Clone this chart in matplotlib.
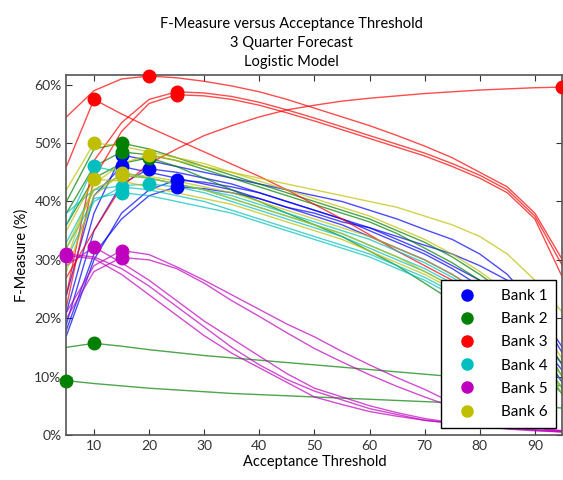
import numpy as np
import matplotlib
matplotlib.use('Agg')
from matplotlib import pyplot as plt
from matplotlib.lines import Line2D

plt.rcParams['font.family'] = ['Lato', 'DejaVu Sans']

thresholds = [5, 10, 15, 20, 25, 30, 35, 40, 45, 50, 55, 60, 65, 70, 75, 80, 85, 90, 95]

# F-measure (%) per bank, one row per model run
bank1 = [
    [21, 38, 48, 47, 46, 45, 44, 43, 42, 41, 40, 38.5, 37, 35.2, 33.5, 31, 27.5, 22, 14],
    [24, 41, 46, 45, 44, 43, 42, 40.5, 39, 38, 36.5, 35.5, 34, 32.5, 31, 29, 26.5, 22, 15],
    [19, 35, 43, 45.6, 45, 44, 43, 41.5, 40, 38.5, 37, 35, 33, 31, 28.5, 25.5, 22, 17, 11],
    [17, 30, 38, 42, 43.7, 43.3, 42.5, 41.5, 40, 38.5, 37, 35.5, 33.5, 31.5, 29, 26.5, 23, 18.5, 12],
    [18, 31, 37, 41, 42.5, 42.2, 41.5, 40.5, 39, 37.5, 36, 34, 32, 30, 27.5, 24.5, 21, 16, 9],
]
bank2 = [
    [40, 49, 50, 49, 47.5, 46, 44.5, 43, 41.5, 40, 38.5, 37, 35, 33, 30.5, 27.5, 24, 19, 12],
    [38, 46, 48.5, 48, 47, 45.5, 44, 42.5, 41, 39.5, 38, 36.5, 34.5, 32, 29.5, 26.5, 22.5, 17.5, 10],
    [36, 44, 46.5, 47.5, 46, 44, 42, 40, 38, 36, 34, 31.5, 29, 26, 23, 20, 16, 12, 7],
    [15, 15.7, 15.2, 14.6, 14.1, 13.6, 13.2, 12.8, 12.4, 12.0, 11.6, 11.2, 10.8, 10.4, 10.0, 9.6, 9.2, 8.8, 8.4],
    [9.3, 8.8, 8.4, 8.0, 7.7, 7.4, 7.1, 6.9, 6.7, 6.5, 6.3, 6.1, 5.9, 5.7, 5.5, 5.3, 5.1, 4.9, 4.6],
]
bank3 = [
    [54.5, 59, 61, 61.5, 61.2, 60.6, 59.8, 58.8, 57.5, 56, 54.5, 53, 51.3, 49.5, 47.5, 45, 42.5, 38, 30],
    [46, 57.5, 55, 52.7, 50.6, 48.5, 46.4, 44.3, 42, 39.5, 37, 34.3, 31.5, 29, 26.5, 23.5, 20, 15, 9],
    [24, 47, 53.5, 57.5, 58.8, 58.6, 58, 57, 55.7, 54.3, 52.8, 51.3, 49.8, 48.3, 46.5, 44.5, 42, 37.5, 29],
    [22, 44, 52, 56.8, 58.3, 58.1, 57.5, 56.5, 55.2, 53.8, 52.3, 50.8, 49.3, 47.8, 46, 44, 41.5, 37, 27],
    [27, 35, 42.5, 46.5, 49, 51.3, 53, 54.5, 55.7, 56.5, 57.2, 57.7, 58.1, 58.5, 58.8, 59.1, 59.3, 59.5, 59.6],
]
bank4 = [
    [36, 46, 45, 44, 43, 42, 41, 39.5, 38, 36.5, 35, 33.5, 31.5, 29.5, 27, 24, 20.5, 16, 10],
    [33, 42, 44.5, 44, 43, 42, 40.5, 39, 37.5, 36, 34.5, 32.5, 30.5, 28.5, 26, 23, 19.5, 15, 9],
    [30, 40, 42.5, 42, 41, 40, 38.5, 37, 35.5, 34, 32.5, 31, 29, 27, 24.5, 21.5, 18, 13.5, 8],
    [38, 42, 42.7, 43, 42.5, 41.5, 40, 38.5, 37, 35.5, 34, 32, 30, 28, 25.5, 22.5, 19, 14.5, 8],
    [32, 40.5, 41.5, 41, 40, 39, 38, 36.5, 35, 33.5, 32, 30.5, 28.5, 26.5, 24, 21, 17.5, 13, 7],
]
bank5 = [
    [31, 30.5, 28.5, 25.5, 22, 18.5, 15, 12, 9.5, 7.5, 6, 4.5, 3.5, 2.5, 2, 1.5, 1, 0.7, 0.5],
    [29, 32.2, 29.5, 26.5, 23, 19.5, 16.5, 13.5, 10.5, 8, 6.5, 5, 3.8, 2.8, 2.1, 1.5, 1.1, 0.8, 0.5],
    [21, 29, 31.6, 30.9, 28.8, 26.5, 24, 21.5, 19, 16.8, 14.3, 12, 9.8, 7.8, 5.5, 3.8, 2.3, 1.3, 0.7],
    [20, 28, 30.4, 30, 28.5, 26, 23, 20.3, 17.5, 14.8, 12.5, 10.3, 8.3, 6.5, 4.8, 3.4, 2.2, 1.2, 0.6],
    [30.7, 30.2, 27.5, 24, 20.5, 17, 14, 11.5, 9, 6.5, 5.2, 4, 3.2, 2.5, 2, 1.6, 1.2, 0.9, 0.6],
]
bank6 = [
    [42, 50, 49.5, 48.5, 47.5, 46.5, 45, 43.5, 42, 40.5, 39, 37.5, 35.5, 33.5, 31, 28, 24.5, 20, 13],
    [30, 43, 46.5, 48, 47, 46, 45, 44, 43, 42, 41, 40, 39, 37.5, 36, 34, 31, 26.5, 21],
    [28, 41, 44.8, 44.3, 43.5, 42.5, 41.5, 40, 38.5, 37, 35.5, 34, 32, 30, 27.5, 24.5, 21, 16.5, 10],
    [35, 43.8, 43.5, 42.5, 41.5, 40.5, 39.5, 38, 36.5, 35, 33.5, 31.5, 29.5, 27.5, 25, 22, 18.5, 14, 8],
    [32, 42, 44.5, 44, 43, 42, 40.5, 39, 37.5, 36, 34.5, 32.5, 30.5, 28, 25.5, 22.5, 19, 14.5, 7],
]

banks = [bank1, bank2, bank3, bank4, bank5, bank6]
bank_names = ['Bank 1', 'Bank 2', 'Bank 3', 'Bank 4', 'Bank 5', 'Bank 6']
colors = ['#0000ff', '#008000', '#ff0000', '#00bfbf', '#bf00bf', '#bfbf00']

fig = plt.figure(figsize=(5.63, 4.8), dpi=100)
ax = fig.add_axes([0.118, 0.094, 0.881, 0.750])

x = np.array(thresholds)
for runs, col in zip(banks, colors):
    for run in runs:
        y = np.array(run) / 100.0
        ax.plot(x, y, color=col, lw=1.0, alpha=0.7, zorder=2)
        # mark the best threshold of each run
        i = np.argmax(y)
        ax.plot(x[i], y[i], 'o', color=col, ms=9, zorder=3, clip_on=False)

ax.set_xlim(5, 95)
ax.set_ylim(0, 0.617)
ax.set_xticks(range(10, 100, 10))
ax.set_yticks(np.arange(0, 0.61, 0.1))
ax.set_yticklabels(['%d%%' % v for v in range(0, 61, 10)])
ax.tick_params(direction='in', length=4, top=True, right=True, labelsize=10, colors='#333333')
for sp in ax.spines.values():
    sp.set_color('#555555')
    sp.set_linewidth(1.2)

ax.set_xlabel('Acceptance Threshold', fontsize=10.5, labelpad=2)
ax.set_ylabel('F-Measure (%)', fontsize=10.5, labelpad=4)

fig.text(0.517, 0.965, 'F-Measure versus Acceptance Threshold\n3 Quarter Forecast\nLogistic Model',
         ha='center', va='top', fontsize=10.5, linespacing=1.45)

handles = [Line2D([], [], ls='none', marker='o', color=c, ms=8) for c in colors]
leg = ax.legend(handles, bank_names, loc='lower right', bbox_to_anchor=(0.988, 0.019),
                borderaxespad=0, fontsize=11, fancybox=False, framealpha=1, edgecolor='black',
                handletextpad=1.1, labelspacing=0.6, borderpad=0.6, handlelength=2.2)
leg.get_frame().set_linewidth(1.0)
leg.set_zorder(5)

fig.savefig('out.png', dpi=100)
